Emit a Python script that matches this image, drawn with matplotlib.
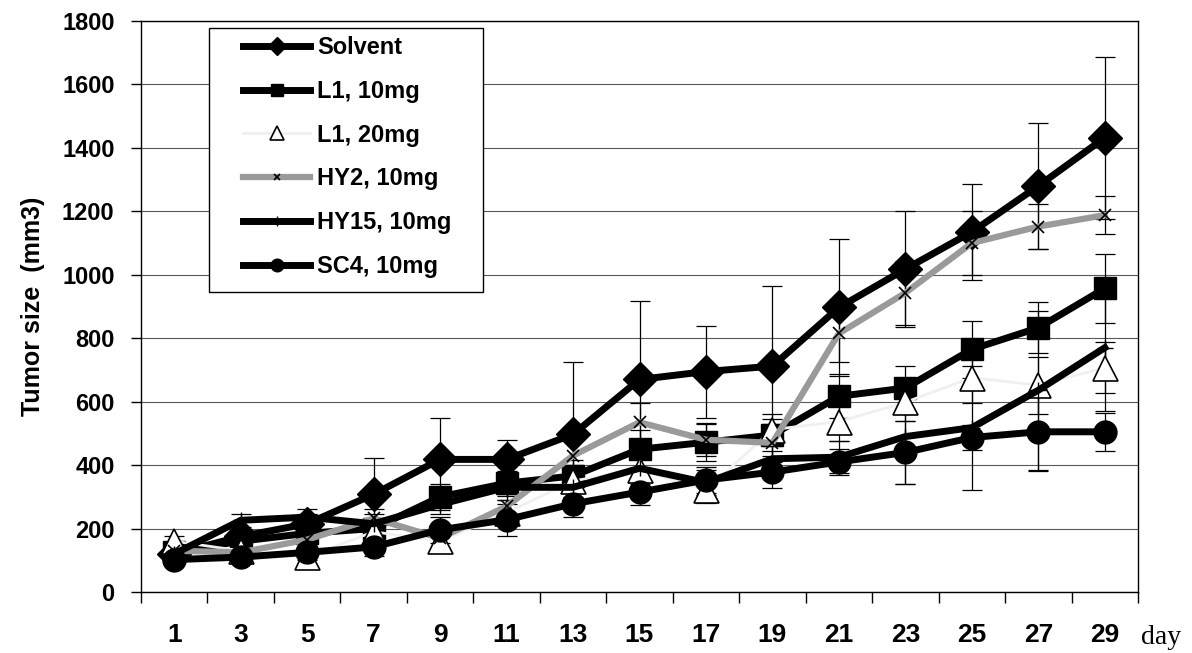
import numpy as np
import matplotlib
matplotlib.use('Agg')
import matplotlib.pyplot as plt
from matplotlib.patches import Rectangle

# Tumor growth per treatment group (mean volume and error, mm3)
days = [1, 3, 5, 7, 9, 11, 13, 15, 17, 19, 21, 23, 25, 27, 29]

solvent = [120, 175, 215, 308, 418, 418, 497, 670, 695, 712, 897, 1018, 1135, 1280, 1432]
solvent_err = [15, 20, 30, 115, 130, 60, 228, 248, 145, 252, 215, 182, 152, 200, 255]

l1_10 = [126, 160, 185, 200, 300, 343, 366, 450, 472, 495, 617, 643, 765, 833, 957]
l1_10_err = [15, 20, 25, 30, 40, 40, 50, 60, 60, 50, 70, 70, 90, 80, 110]

l1_20 = [160, 130, 110, 190, 160, 250, 350, 386, 320, 512, 537, 598, 676, 652, 707]
l1_20_err = [15, 20, 25, 30, 30, 40, 50, 60, 40, 50, 60, 60, 80, 90, 80]

hy2 = [130, 125, 165, 232, 170, 270, 430, 535, 480, 470, 815, 943, 1100, 1152, 1188]
hy2_err = [15, 20, 25, 30, 30, 40, 60, 60, 50, 60, 90, 100, 100, 70, 60]

hy15 = [120, 226, 236, 215, 276, 330, 330, 390, 345, 420, 425, 490, 518, 636, 770]
hy15_err = [15, 20, 25, 30, 30, 40, 40, 50, 40, 50, 50, 150, 195, 250, 200]

sc4 = [102, 110, 125, 142, 196, 228, 278, 315, 353, 378, 410, 440, 487, 505, 505]
sc4_err = [15, 20, 25, 30, 40, 50, 40, 40, 40, 50, 40, 100, 40, 125, 60]

labels = ['Solvent', 'L1, 10mg', 'L1, 20mg', 'HY2, 10mg', 'HY15, 10mg', 'SC4, 10mg']

plt.rcParams['font.family'] = ['Liberation Sans', 'DejaVu Sans']

W, H = 1192, 653
fig = plt.figure(figsize=(W / 100, H / 100), dpi=100)
ax = fig.add_axes([141 / W, 61 / H, 997 / W, 571 / H])

x = np.arange(len(days)) + 0.5

# style for each series: (values, errors, line colour, line width, marker, size, face, edge, marker width)
series = [
    (solvent, solvent_err, 'black', 5, 'D', 17, 'black', 'black', 1),
    (l1_10, l1_10_err, 'black', 5, 's', 16.5, 'black', 'black', 1),
    (l1_20, l1_20_err, '0.94', 2, '^', 18, 'white', 'black', 1.2),
    (hy2, hy2_err, '#9a9a9a', 4.5, 'x', 9, 'black', 'black', 1.2),
    (hy15, hy15_err, 'black', 5, '+', 12, 'black', 'black', 1),
    (sc4, sc4_err, 'black', 5, 'o', 16.5, 'black', 'black', 1),
]

handles = []
for (vals, err, col, lw, mk, ms, fc, ec, mew), lab in zip(series, labels):
    ax.errorbar(x, vals, yerr=err, fmt='none', ecolor='black', elinewidth=0.9,
                capsize=7.5, capthick=0.9, zorder=2)
    ln, = ax.plot(x, vals, color=col, lw=lw, marker=mk, markersize=ms,
                  markerfacecolor=fc, markeredgecolor=ec, markeredgewidth=mew,
                  label=lab, zorder=3)
    handles.append(ln)

ax.set_xlim(0, len(days))
ax.set_ylim(0, 1800)

# gridlines every 200
ax.set_yticks(np.arange(0, 1801, 200))
ax.yaxis.grid(True, color='0.35', lw=0.8)
ax.set_axisbelow(True)

# category boundaries carry the tick marks, labels sit in the middle
ax.set_xticks(np.arange(0, len(days) + 1))
ax.set_xticklabels([])
ax.set_xticks(x, minor=True)
ax.set_xticklabels([str(d) for d in days], minor=True)
ax.tick_params(axis='x', which='major', direction='out', length=8, width=1)
ax.tick_params(axis='x', which='minor', length=0, pad=22, labelsize=19)
ax.tick_params(axis='y', direction='out', length=7, width=1, pad=12, labelsize=17)
for t in ax.get_xticklabels(minor=True) + ax.get_yticklabels():
    t.set_fontweight('bold')

for s in ax.spines.values():
    s.set_color('black')
    s.set_linewidth(1)

ax.set_ylabel('Tumor size  (mm3)', fontsize=18, fontweight='bold', labelpad=12)
fig.text(1141 / W, 1 - 637 / H, 'day', fontsize=20, family='Liberation Serif',
         ha='left', va='center')

# legend: frameless entries on top of a hand-drawn white box
box = Rectangle((209 / W, 1 - 292 / H), (483 - 209) / W, (292 - 28) / H,
                transform=fig.transFigure, facecolor='white', edgecolor='black',
                lw=1, zorder=4, clip_on=False)
ax.add_patch(box)
leg = ax.legend(handles=handles, loc='upper left', bbox_to_anchor=(243 / W, 1 - 36 / H),
                bbox_transform=fig.transFigure, borderaxespad=0, borderpad=0,
                frameon=False, markerscale=0.55, handlelength=2.85,
                labelspacing=0.88, handletextpad=0.28,
                prop={'weight': 'bold', 'size': 17})
leg.set_zorder(5)

fig.savefig('out.png', dpi=100)
